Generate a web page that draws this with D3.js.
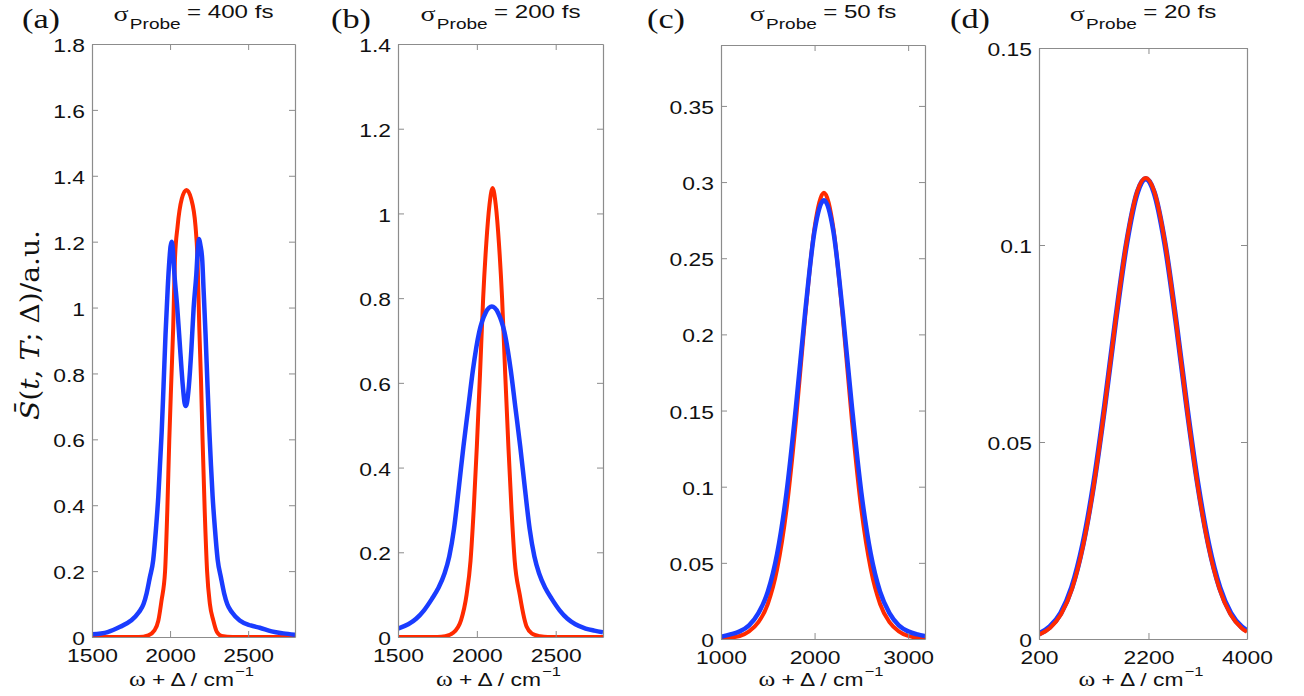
<!DOCTYPE html>
<html><head><meta charset="utf-8">
<script src="https://cdn.jsdelivr.net/npm/d3@7"></script>
<style>
body{margin:0;background:#fff;}
svg{display:block;}
</style></head><body>
<svg id="chart" width="1304" height="696"></svg>
<script>
// ---------- data ----------
const panelLabels = ["(a)", "(b)", "(c)", "(d)"];
const probeWidths = ["400 fs", "200 fs", "50 fs", "20 fs"];
const xDomains = [[1500, 2800], [1500, 2800], [1000, 3180], [200, 4000]];
const yDomains = [[0, 1.8], [0, 1.4], [0, 0.39], [0, 0.15]];
const xTickValues = [[1500, 2000, 2500], [1500, 2000, 2500], [1000, 2000, 3000], [200, 2200, 4000]];
const yTickValues = [
  [0, 0.2, 0.4, 0.6, 0.8, 1, 1.2, 1.4, 1.6, 1.8],
  [0, 0.2, 0.4, 0.6, 0.8, 1, 1.2, 1.4],
  [0, 0.05, 0.1, 0.15, 0.2, 0.25, 0.3, 0.35],
  [0, 0.05, 0.1, 0.15]
];
const yAxisLabel = ["S\u0304", "(", "t", ", ", "T", "; \u0394)/a.u."];
const xAxisLabel = ["\u03c9", " + \u0394 / cm", "\u22121"];

// panel (a)  sigma = 400 fs
const aRedX = [1500,1800,1860,1900,1925,1945,1968,1982,1995,2008,2020,2031,2048,2075,2105,2135,2163,2176,2187,2198,2208,2222,2237,2255,2277,2300,2330,2400,2800];
const aRedY = [0,0,0.005,0.02,0.05,0.11,0.2,0.38,0.6,0.78,0.94,1.144,1.246,1.33,1.357,1.33,1.246,1.144,0.94,0.78,0.6,0.38,0.2,0.1,0.05,0.015,0.003,0,0];
const aBlueX = [1500,1600,1680,1750,1800,1830,1850,1870,1892,1910,1925,1935,1946,1958,1971,1985,1995,2003,2010,2017,2028,2046,2065,2082,2093,2100,2108,2120,2136,2151,2168,2178,2186,2194,2206,2214,2227,2240,2252,2262,2272,2287,2305,2326,2346,2366,2396,2446,2516,2575,2650,2725,2800];
const aBlueY = [0.008,0.015,0.031,0.05,0.075,0.1,0.133,0.18,0.234,0.33,0.43,0.52,0.62,0.76,0.92,1.06,1.14,1.185,1.2,1.18,1.1,1.0,0.87,0.76,0.71,0.701,0.71,0.76,0.87,1.0,1.1,1.18,1.208,1.19,1.144,1.06,0.92,0.76,0.62,0.52,0.43,0.33,0.234,0.18,0.133,0.1,0.075,0.05,0.035,0.028,0.017,0.011,0.007];

// panel (b)  sigma = 200 fs
const bRedX = [1500,1750,1800,1850,1900,1935,1960,1980,2000,2020,2040,2060,2080,2100,2120,2140,2160,2180,2200,2220,2240,2272,2300,2316,2350,2400,2450,2800];
const bRedY = [0,0,0.002,0.01,0.04,0.1,0.18,0.3,0.45,0.62,0.8,0.93,1.02,1.06,1.02,0.93,0.8,0.62,0.45,0.3,0.18,0.1,0.045,0.024,0.008,0.002,0,0];
const bBlueX = [1500,1565,1615,1665,1715,1755,1795,1825,1855,1885,1915,1945,1975,2015,2055,2095,2135,2175,2215,2245,2275,2305,2335,2365,2395,2435,2475,2525,2575,2625,2690,2745,2800];
const bBlueY = [0.02,0.03,0.043,0.063,0.09,0.115,0.15,0.19,0.255,0.35,0.45,0.54,0.63,0.72,0.765,0.78,0.765,0.72,0.63,0.54,0.45,0.35,0.255,0.19,0.15,0.115,0.09,0.063,0.043,0.03,0.02,0.015,0.011];

// panel (c)  sigma = 50 fs
const cRedX = [1000,1200,1300,1400,1500,1600,1700,1800,1900,2000,2100,2200,2300,2400,2500,2600,2700,2800,2900,3000,3180];
const cRedY = [0.0003,0.002,0.005,0.011,0.023,0.046,0.085,0.143,0.212,0.27,0.293,0.27,0.212,0.143,0.085,0.046,0.023,0.011,0.005,0.002,0.0003];
const cBlueX = [1000,1100,1200,1300,1400,1500,1600,1700,1800,1900,2000,2100,2200,2300,2400,2500,2600,2700,2800,2900,3000,3100,3180];
const cBlueY = [0.0015,0.003,0.005,0.009,0.017,0.031,0.056,0.096,0.152,0.215,0.268,0.288,0.268,0.215,0.152,0.096,0.056,0.031,0.017,0.009,0.005,0.003,0.002];

// panel (d)  sigma = 20 fs
const dRedX = [200,400,600,800,1000,1200,1400,1600,1800,2000,2150,2300,2500,2700,2900,3100,3300,3500,3700,3900,4000];
const dRedY = [0.0011,0.0028,0.0062,0.0126,0.0233,0.0389,0.0589,0.0809,0.1007,0.1138,0.117,0.1138,0.1007,0.0809,0.0589,0.0389,0.0233,0.0126,0.0062,0.0028,0.0018];
const dBlueX = [200,400,600,800,1000,1200,1400,1600,1800,2000,2150,2300,2500,2700,2900,3100,3300,3500,3700,3900,4000];
const dBlueY = [0.0013,0.0031,0.0066,0.0131,0.0239,0.0394,0.0591,0.0809,0.1004,0.1135,0.1168,0.1135,0.1004,0.0809,0.0591,0.0394,0.0239,0.0131,0.0066,0.0031,0.0021];

// ---------- layout / style ----------
const boxes = [
  {l: 92, r: 295, t: 44, b: 637},
  {l: 398, r: 603, t: 44, b: 637},
  {l: 721, r: 925, t: 45, b: 639},
  {l: 1039, r: 1247, t: 48, b: 639}
];
const labelX = [41, 351, 666, 970];
const RED = "#ff2a00", BLUE = "#1a3cff", AXIS = "#8c8c8c", TXT = "#111";
const SANS = "'Liberation Sans', Arial, Helvetica, sans-serif";
const SERIF = "'Liberation Serif', 'Times New Roman', serif";
const STRETCH = 1.27;

const seriesSets = [
  {red: d3.zip(aRedX, aRedY), blue: d3.zip(aBlueX, aBlueY), redOnTop: false},
  {red: d3.zip(bRedX, bRedY), blue: d3.zip(bBlueX, bBlueY), redOnTop: false},
  {red: d3.zip(cRedX, cRedY), blue: d3.zip(cBlueX, cBlueY), redOnTop: false},
  {red: d3.zip(dRedX, dRedY), blue: d3.zip(dBlueX, dBlueY), redOnTop: true}
];

const svg = d3.select("#chart");
svg.append("rect").attr("width", 1304).attr("height", 696).attr("fill", "#fff");

boxes.forEach((box, i) => {
  const x = d3.scaleLinear().domain(xDomains[i]).range([box.l, box.r]);
  const y = d3.scaleLinear().domain(yDomains[i]).range([box.b, box.t]);
  const g = svg.append("g");

  const clipId = "clip" + i;
  g.append("clipPath").attr("id", clipId).append("rect")
    .attr("x", box.l).attr("y", box.t).attr("width", box.r - box.l).attr("height", box.b - box.t);

  const line = d3.line().x(d => x(d[0])).y(d => y(d[1])).curve(d3.curveMonotoneX);
  const s = seriesSets[i];
  const order = s.redOnTop ? [["blue", BLUE, 5.5], ["red", RED, 4]] : [["red", RED, 4], ["blue", BLUE, 4.5]];
  const lg = g.append("g").attr("clip-path", `url(#${clipId})`);
  order.forEach(([k, c, w]) => {
    lg.append("path").datum(s[k]).attr("fill", "none").attr("stroke", c)
      .attr("stroke-width", w).attr("stroke-linejoin", "round").attr("d", line);
  });

  const fmt = d => String(d);
  const gb = g.append("g").attr("transform", `translate(0,${box.b})`)
    .call(d3.axisBottom(x).tickValues(xTickValues[i]).tickSizeInner(-6).tickSizeOuter(0).tickPadding(12).tickFormat(fmt));
  const gt = g.append("g").attr("transform", `translate(0,${box.t})`)
    .call(d3.axisTop(x).tickValues(xTickValues[i]).tickSizeInner(-6).tickSizeOuter(0).tickFormat(() => ""));
  const gl = g.append("g").attr("transform", `translate(${box.l},0)`)
    .call(d3.axisLeft(y).tickValues(yTickValues[i]).tickSizeInner(-6).tickSizeOuter(0).tickPadding(7).tickFormat(fmt));
  const gr = g.append("g").attr("transform", `translate(${box.r},0)`)
    .call(d3.axisRight(y).tickValues(yTickValues[i]).tickSizeInner(-6).tickSizeOuter(0).tickFormat(() => ""));

  [gb, gt, gl, gr].forEach(ax => {
    ax.select(".domain").attr("stroke", AXIS).attr("stroke-width", 1.2);
    ax.selectAll(".tick line").attr("stroke", AXIS).attr("stroke-width", 1);
  });
  gt.selectAll(".tick text").remove();
  gr.selectAll(".tick text").remove();
  gb.selectAll(".tick text")
    .attr("fill", TXT).attr("font-family", SANS).attr("font-size", 18)
    .attr("transform", `scale(${STRETCH},1)`);
  gl.selectAll(".tick text")
    .attr("fill", TXT).attr("font-family", SANS).attr("font-size", 18)
    .attr("x", -7 / STRETCH).attr("dy", "0.42em")
    .attr("transform", `scale(${STRETCH},1)`);

  // panel label
  svg.append("text").attr("transform", `translate(${labelX[i]},28) scale(${STRETCH},1)`)
    .attr("text-anchor", "middle")
    .attr("font-family", SERIF).attr("font-size", 27).attr("fill", TXT)
    .text(panelLabels[i]);

  // title
  const cx = (box.l + box.r) / 2;
  const t = svg.append("text").attr("transform", `translate(${cx},0) scale(${STRETCH},1)`)
    .attr("x", 0).attr("y", 21).attr("text-anchor", "middle").attr("fill", TXT);
  t.append("tspan").attr("font-family", SERIF).attr("font-size", 22).text("\u03c3");
  t.append("tspan").attr("dx", 1).attr("dy", 8).attr("font-family", SANS).attr("font-size", 15).text("Probe");
  t.append("tspan").attr("dx", 5).attr("dy", -11).attr("font-family", SANS).attr("font-size", 19)
    .text("= " + probeWidths[i]);

  // x label
  const xl = svg.append("text").attr("transform", `translate(${cx - 2},686) scale(${STRETCH},1)`)
    .attr("x", 0).attr("y", 0).attr("text-anchor", "middle").attr("fill", TXT);
  xl.append("tspan").attr("font-family", SERIF).attr("font-size", 20).text(xAxisLabel[0]);
  xl.append("tspan").attr("font-family", SANS).attr("font-size", 18).text(xAxisLabel[1]);
  xl.append("tspan").attr("dx", 1).attr("dy", -10).attr("font-family", SANS).attr("font-size", 13).text(xAxisLabel[2]);
});

// y label (shared, left)
const yl = svg.append("text")
  .attr("transform", "translate(39,325) rotate(-90)")
  .attr("text-anchor", "middle").attr("fill", TXT)
  .attr("textLength", 190).attr("lengthAdjust", "spacingAndGlyphs")
  .attr("font-family", "'DejaVu Serif', serif").attr("font-size", 26);
yAxisLabel.forEach((s, k) => {
  yl.append("tspan").attr("font-style", (k === 0 || k === 2 || k === 4) ? "italic" : "normal").text(s);
});
</script></body></html>
